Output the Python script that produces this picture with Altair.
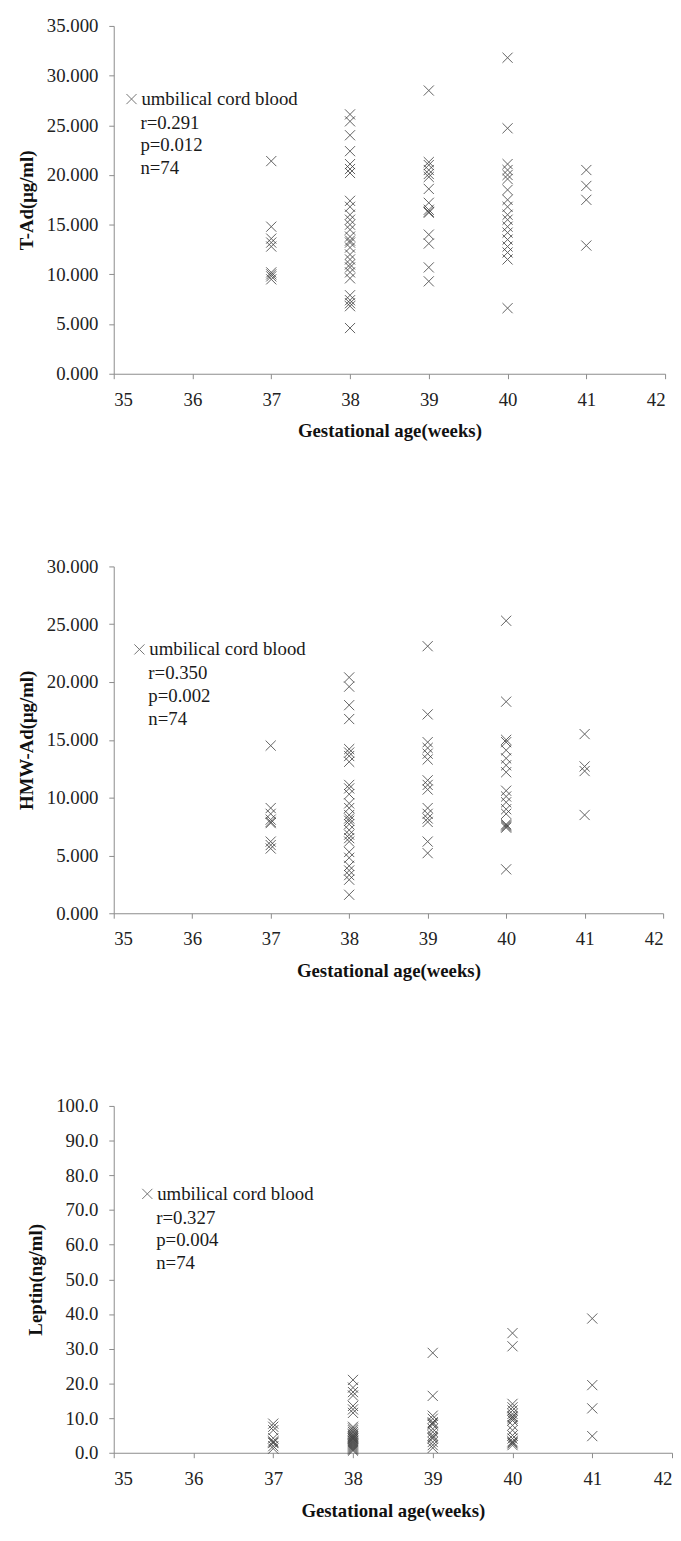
import altair as alt
import pandas as pd

# ---------------- data ----------------
x_ticks = [35, 36, 37, 38, 39, 40, 41, 42]
x_title = "Gestational age(weeks)"
legend_label = "umbilical cord blood"

# Panel 1: T-Ad (ug/ml)
tad_w37 = [21.4, 14.8, 13.6, 13.2, 12.8, 10.2, 10.0, 9.8, 9.5]
tad_w38 = [26.1, 25.4, 24.0, 22.4, 21.1, 20.6, 20.2, 17.4, 16.8, 16.0, 15.5, 15.0,
           14.5, 13.8, 13.4, 13.2, 12.7, 12.0, 11.5, 11.0, 10.7, 10.2, 9.6, 7.9,
           7.4, 7.1, 6.8, 4.6]
tad_w39 = [28.5, 21.3, 21.0, 20.5, 20.1, 19.8, 18.6, 17.2, 16.5, 16.3, 16.2, 14.0,
           13.1, 10.7, 9.3]
tad_w40 = [31.8, 24.7, 21.1, 20.5, 20.0, 19.6, 18.5, 17.5, 16.8, 16.0, 15.5, 14.8,
           14.2, 13.5, 12.8, 12.2, 11.5, 6.6]
tad_w41 = [20.5, 18.9, 17.5, 12.9]
tad_ticks = [0, 5, 10, 15, 20, 25, 30, 35]
tad_stats = ["r=0.291", "p=0.012", "n=74"]
tad_title = "T-Ad(\u03bcg/ml)"

# Panel 2: HMW-Ad (ug/ml)
hmw_w37 = [14.5, 9.1, 8.6, 8.1, 7.9, 7.8, 6.2, 5.9, 5.6]
hmw_w38 = [20.4, 19.6, 18.0, 16.8, 14.2, 13.9, 13.6, 13.1, 11.1, 10.8, 10.3, 9.5,
           9.1, 8.5, 8.2, 8.0, 7.7, 7.2, 6.8, 6.5, 6.2, 5.3, 4.8, 4.1, 3.7, 3.3,
           2.9, 1.6]
hmw_w39 = [23.1, 17.2, 14.8, 14.3, 13.8, 13.3, 11.5, 11.1, 10.7, 9.1, 8.6, 8.2,
           7.9, 6.2, 5.2]
hmw_w40 = [25.3, 18.3, 15.0, 14.8, 14.1, 13.4, 12.8, 12.2, 10.6, 10.1, 9.6, 9.0,
           8.6, 7.7, 7.6, 7.5, 7.4, 3.8]
hmw_w41 = [15.5, 12.7, 12.3, 8.5]
hmw_ticks = [0, 5, 10, 15, 20, 25, 30]
hmw_stats = ["r=0.350", "p=0.002", "n=74"]
hmw_title = "HMW-Ad(\u03bcg/ml)"

# Panel 3: Leptin (ng/ml)
lep_w37 = [8.4, 7.5, 6.5, 4.2, 3.3, 3.0, 2.8, 1.9, 1.2]
lep_w38 = [21.0, 18.8, 17.5, 16.5, 13.5, 12.5, 11.5, 7.5, 7.0, 6.5, 6.0, 5.5, 5.2,
           4.8, 4.5, 4.2, 4.0, 3.6, 3.3, 3.0, 2.7, 2.4, 2.1, 1.8, 1.5, 1.2, 0.9, 0.6]
lep_w39 = [28.8, 16.4, 10.7, 9.8, 8.8, 8.5, 8.1, 6.9, 6.0, 5.0, 4.5, 4.1, 3.1, 2.2, 1.4]
lep_w40 = [34.5, 30.7, 14.1, 13.1, 12.2, 11.2, 10.5, 10.3, 9.8, 9.3, 7.9, 6.5, 5.0,
           4.1, 3.3, 3.0, 2.7, 2.2]
lep_w41 = [38.7, 19.5, 12.8, 4.8]
lep_ticks = [0, 10, 20, 30, 40, 50, 60, 70, 80, 90, 100]
lep_stats = ["r=0.327", "p=0.004", "n=74"]
lep_title = "Leptin(ng/ml)"


def frame(groups):
    rows = []
    for wk, vals in zip([37, 38, 39, 40, 41], groups):
        for v in vals:
            rows.append({"week": wk, "value": v})
    return pd.DataFrame(rows)


FONT = "Liberation Serif"
XSHAPE = "M-1,-1L1,1M1,-1L-1,1"
MARK_COLOR = "#3a3a3a"


def panel(df, ytitle, yticks, fmt, stats, width, height, leg_dx, leg_dy):
    ymax = yticks[-1]
    pts = alt.Chart(df).mark_point(
        shape=XSHAPE, size=105, filled=False, strokeWidth=1,
        color=MARK_COLOR, opacity=0.8
    ).encode(
        x=alt.X("week:Q",
                scale=alt.Scale(domain=[35, 42], nice=False, zero=False),
                axis=alt.Axis(values=x_ticks, format="d", title=x_title,
                              labelFont=FONT, titleFont=FONT)),
        y=alt.Y("value:Q",
                scale=alt.Scale(domain=[0, ymax], nice=False),
                axis=alt.Axis(values=yticks, format=fmt, title=ytitle,
                              labelFont=FONT, titleFont=FONT)),
    )
    leg_df = pd.DataFrame({"t": [legend_label]})
    leg_mark = alt.Chart(leg_df).mark_point(
        shape=XSHAPE, size=105, filled=False, strokeWidth=1, color=MARK_COLOR
    ).encode(x=alt.value(leg_dx), y=alt.value(leg_dy))
    leg_text = alt.Chart(leg_df).mark_text(
        align="left", baseline="middle", font=FONT, fontSize=19, color="#1a1a1a"
    ).encode(x=alt.value(leg_dx + 10), y=alt.value(leg_dy), text="t:N")
    layers = [pts, leg_mark, leg_text]
    for i, s in enumerate(stats):
        sdf = pd.DataFrame({"t": [s]})
        layers.append(
            alt.Chart(sdf).mark_text(
                align="left", baseline="middle", font=FONT, fontSize=19, color="#1a1a1a"
            ).encode(x=alt.value(leg_dx + 9), y=alt.value(leg_dy + 24 + i * 23), text="t:N")
        )
    return alt.layer(*layers).properties(width=width, height=height)


p1 = panel(frame([tad_w37, tad_w38, tad_w39, tad_w40, tad_w41]), tad_title, tad_ticks,
           ".3f", tad_stats, 558, 352, 18, 74)
p2 = panel(frame([hmw_w37, hmw_w38, hmw_w39, hmw_w40, hmw_w41]), hmw_title, hmw_ticks,
           ".3f", hmw_stats, 556, 351, 26, 84)
p3 = panel(frame([lep_w37, lep_w38, lep_w39, lep_w40, lep_w41]), lep_title, lep_ticks,
           ".1f", lep_stats, 565, 351, 34, 89)

chart = alt.concat(p1, p2, p3, columns=1, spacing=118, align="none").properties(
    padding={"left": 9, "top": 0, "right": 0, "bottom": 0}
).configure(font=FONT).configure_view(stroke=None).configure_axis(
    grid=False,
    domainColor="#8a8a8a",
    tickColor="#8a8a8a",
    tickSize=5,
    labelFont=FONT,
    labelFontSize=19,
    labelColor="#222222",
    titleFont=FONT,
    titleFontSize=19,
    titleFontWeight="bold",
    titleColor="#111111",
).configure_axisX(
    labelPadding=12, titlePadding=13
).configure_axisY(
    labelPadding=11, titlePadding=10
)

chart.save("out.html", embed_options={"renderer": "svg", "actions": False})
